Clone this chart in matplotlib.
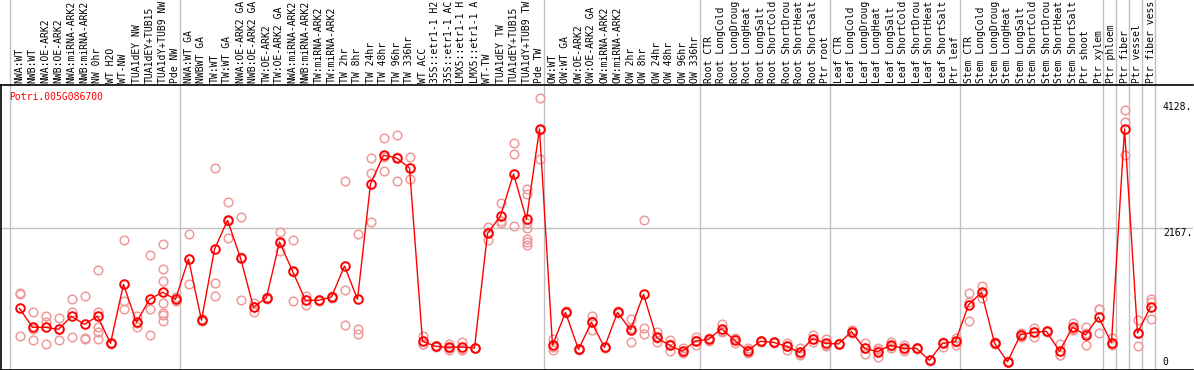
import numpy as np
import matplotlib
matplotlib.use("Agg")
import matplotlib.pyplot as plt
import matplotlib.transforms as mtransforms

# sample labels (truncated to 14 chars like the original viewer)
labels = [
    "NWA:WT", "NWB:WT", "NWA:OE-ARK2", "NWB:OE-ARK2", "NWA:miRNA-ARK2",
    "NWB:miRNA-ARK2", "NW 0hr", "WT H2O", "WT-NW", "TUA1dEY NW",
    "TUA1dEY+TUB15", "TUA1dY+TUB9 NW", "Pde NW", "NWA:WT GA", "NWBWT GA",
    "TW:WT", "TW:WT GA", "NWA:OE-ARK2 GA", "NWB:OE-ARK2 GA", "TW:OE-ARK2",
    "TW:OE-ARK2 GA", "NWA:miRNA-ARK2", "NWB:miRNA-ARK2", "TW:miRNA-ARK2", "TW:miRNA-ARK2",
    "TW 2hr", "TW 8hr", "TW 24hr", "TW 48hr", "TW 96hr",
    "TW 336hr", "WT ACC", "35S::etr1-1 H2", "35S::etr1-1 AC", "LMX5::etr1-1 H",
    "LMX5::etr1-1 A", "WT-TW", "TUA1dEY TW", "TUA1dEY+TUB15", "TUA1dY+TUB9 TW",
    "Pde TW", "OW:WT", "OW:WT GA", "OW:OE-ARK2", "OW:OE-ARK2 GA",
    "OW:miRNA-ARK2", "OW:miRNA-ARK2", "OW 2hr", "OW 8hr", "OW 24hr",
    "OW 48hr", "OW 96hr", "OW 336hr", "Root CTR", "Root LongCold",
    "Root LongDroug", "Root LongHeat", "Root LongSalt", "Root ShortCold", "Root ShortDrou",
    "Root ShortHeat", "Root ShortSalt", "Ptr root", "Leaf CTR", "Leaf LongCold",
    "Leaf LongDroug", "Leaf LongHeat", "Leaf LongSalt", "Leaf ShortCold", "Leaf ShortDrou",
    "Leaf ShortHeat", "Leaf ShortSalt", "Ptr leaf", "Stem CTR", "Stem LongCold",
    "Stem LongDroug", "Stem LongHeat", "Stem LongSalt", "Stem ShortCold", "Stem ShortDrou",
    "Stem ShortHeat", "Stem ShortSalt", "Ptr shoot", "Ptr xylem", "Ptr phloem",
    "Ptr fiber", "Ptr vessel", "Ptr fiber vess",
]

# mean expression per sample
means = [
    870, 562, 562, 530, 741, 611, 741, 303, 1259, 643,
    1016, 1130, 1016, 1670, 676, 1827, 2297, 1686, 887, 1043,
    1945, 1475, 1000, 1000, 1054, 1556, 1016, 2885, 3350, 3307,
    3145, 335, 254, 238, 243, 227, 2086, 2367, 3048, 2313,
    3777, 270, 805, 205, 643, 238, 805, 519, 1097, 400,
    270, 173, 340, 367, 540, 351, 184, 335, 319, 254,
    157, 378, 303, 292, 492, 221, 168, 270, 221, 221,
    27, 303, 335, 924, 1130, 308, 5, 443, 481, 497,
    173, 562, 438, 729, 313, 3777, 470, 891,
]

# replicate values per sample
reps = [
    [1113, 1097, 417], [805, 529, 352], [746, 654, 287], [713, 530, 352],
    [1016, 805, 400], [1070, 384, 368], [1486, 805, 562, 486, 368], [316, 303, 290],
    [1973, 989, 859], [741, 626, 562], [1730, 864, 438],
    [1908, 1503, 1308, 962, 800, 762, 670], [1050, 1016, 990], [2070, 1670, 1270],
    [690, 676, 660], [3140, 1275, 1065], [2594, 2292, 2005], [2350, 1703, 1005],
    [951, 894, 816], [1060, 1043, 1025], [2107, 1929, 1799], [1978, 1458, 989],
    [1075, 1000, 924], [1010, 1000, 990], [1070, 1054, 1040], [2929, 1167, 600],
    [2070, 540, 449], [3302, 3059, 2269], [3631, 3328, 3091], [3675, 3317, 2929],
    [3323, 3151, 2961], [427, 291, 287], [265, 254, 243], [287, 232, 195],
    [319, 215, 195], [235, 227, 220], [2183, 2102, 1973], [2572, 2281, 2248],
    [3545, 3367, 2200], [2810, 2718, 2248, 2177, 1994, 1950, 1897],
    [4275, 3765, 3291], [373, 242, 195], [820, 805, 790], [215, 205, 195],
    [746, 664, 519], [249, 238, 221], [832, 805, 789], [692, 546, 319],
    [2297, 556, 449], [492, 389, 319], [350, 287, 173], [221, 157, 141],
    [400, 350, 270], [390, 367, 345], [621, 510, 489], [384, 366, 303],
    [221, 190, 141], [345, 335, 325], [330, 319, 308], [303, 264, 195],
    [221, 137, 113], [438, 366, 330], [368, 276, 265], [300, 292, 285],
    [519, 492, 465], [303, 235, 125], [228, 195, 81], [330, 259, 221],
    [276, 203, 184], [230, 221, 212], [35, 27, 19], [330, 330, 249],
    [394, 330, 281], [1113, 978, 659], [1232, 1126, 1032], [320, 308, 296],
    [15, 5, 0], [465, 453, 411], [546, 486, 411], [510, 497, 485],
    [292, 119, 108], [627, 540, 519], [567, 471, 276], [863, 859, 465],
    [384, 287, 268], [4085, 3890, 3350], [681, 475, 254], [1016, 978, 697],
]

# group separators (drawn after these sample indices)
group_ends = [-1.05, 12, 40, 52, 62, 72, 83, 84, 85, 86, 87]
ytick_vals = [4128, 2167, 0]
gene = "Potri.005G086700"

W, H = 1194, 370
fig = plt.figure(figsize=(W / 100, H / 100), dpi=100)
top_px, bot_px = 85, 369.5
ax = fig.add_axes([1 / W, (H - bot_px) / H, 1192 / W, (bot_px - top_px) / H])

x = np.arange(len(labels))
ax.set_xlim((1 - 19.5) / 13, (1193 - 19.5) / 13)
upp = 2167 / 133.7  # units per pixel
ax.set_ylim(-(bot_px - 362) * upp, (362 - top_px) * upp)

mono = "DejaVu Sans Mono"
head = (85 - 0) / (bot_px - top_px)

for g in group_ends:
    ax.axvline(g + 0.35, ymin=0, ymax=1 + head, color="#c0c0c0", lw=1,
               clip_on=False, zorder=1)
ax.axhline(2167, color="#c0c0c0", lw=1, zorder=1)

for i, vals in enumerate(reps):
    ax.plot([i] * len(vals), vals, "o", ms=6.2, mfc="none", mec="#ee9a9a",
            mew=1.1, zorder=2)

ax.plot(x, means, "-", color="red", lw=1, zorder=3)
ax.plot(x, means, "o", ms=6.2, mfc="none", mec="red", mew=1.4, zorder=4)

trans = mtransforms.blended_transform_factory(ax.transData, ax.transAxes)
for i, lab in enumerate(labels):
    ax.text(i, 1 + 2 / (bot_px - top_px), lab, transform=trans, rotation=90,
            ha="center", va="bottom", fontsize=7, family=mono, clip_on=False)

for v, va in zip(ytick_vals, ["center", "top", "center"]):
    ax.text(87.95, v, f"{v}." if v else "0", ha="left", va=va,
            fontsize=7, family=mono)

ax.text(0.007, 0.975, gene, transform=ax.transAxes, color="red",
        fontsize=7, family=mono, ha="left", va="top")

ax.set_xticks([])
ax.set_yticks([])
ax.spines["right"].set_visible(False)
for s in ["left", "top", "bottom"]:
    ax.spines[s].set_linewidth(1.2)

fig.savefig("out.png", dpi=100)
